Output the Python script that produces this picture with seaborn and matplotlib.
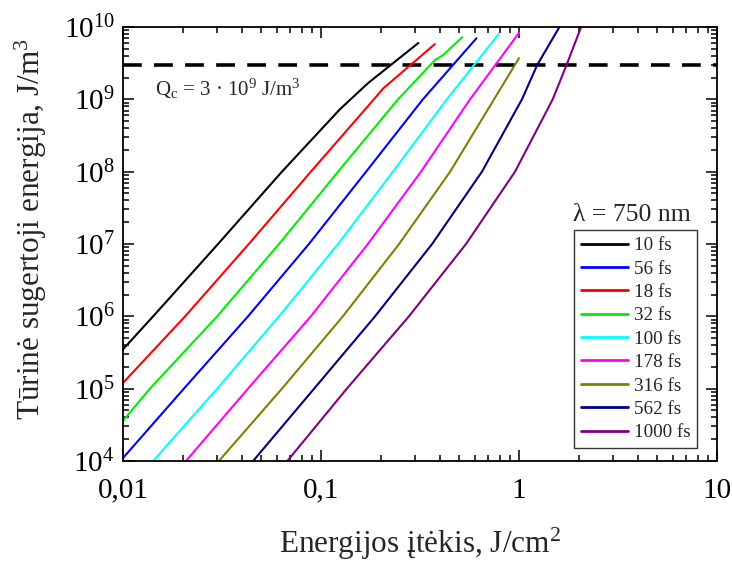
import numpy as np
import pandas as pd
import matplotlib
matplotlib.use("Agg")
import matplotlib.pyplot as plt
import seaborn as sns
from matplotlib.ticker import FixedLocator, LogLocator, NullFormatter, FixedFormatter

# ---- data ----
pulses = ["10 fs", "18 fs", "32 fs", "56 fs", "100 fs", "178 fs", "316 fs", "562 fs", "1000 fs"]
legend_order = ["10 fs", "56 fs", "18 fs", "32 fs", "100 fs", "178 fs", "316 fs", "562 fs", "1000 fs"]

F_10 = [0.01, 0.0142, 0.0302, 0.0635, 0.1247, 0.1726, 0.31]
Q_10 = [3.5e5, 1e6, 1e7, 1e8, 7.3e8, 1.67e9, 6e9]
F_18 = [0.01, 0.0206, 0.0432, 0.0889, 0.185, 0.2065, 0.376]
Q_18 = [1.2e5, 1e6, 1e7, 1e8, 1e9, 1.42e9, 5.8e9]
F_32 = [0.01, 0.01368, 0.0299, 0.0614, 0.122, 0.245, 0.377, 0.414, 0.516]
Q_32 = [3.6e4, 1e5, 1e6, 1e7, 1e8, 1e9, 3.5e9, 4.1e9, 7.2e9]
F_56 = [0.01, 0.0203, 0.0428, 0.0869, 0.169, 0.327, 0.61]
Q_56 = [1.1e4, 1e5, 1e6, 1e7, 1e8, 1e9, 7e9]
F_100 = [0.0142, 0.0299, 0.0614, 0.122, 0.231, 0.432, 0.79]
Q_100 = [1e4, 1e5, 1e6, 1e7, 1e8, 1e9, 8e9]
F_178 = [0.0208, 0.0428, 0.0889, 0.1725, 0.32, 0.566, 1.0]
Q_178 = [1e4, 1e5, 1e6, 1e7, 1e8, 1e9, 8.3e9]
F_316 = [0.0305, 0.0635, 0.129, 0.248, 0.449, 0.748, 1.0]
Q_316 = [1e4, 1e5, 1e6, 1e7, 1e8, 1e9, 3.7e9]
F_562 = [0.0454, 0.0923, 0.1875, 0.364, 0.65, 1.035, 1.237, 1.6]
Q_562 = [1e4, 1e5, 1e6, 1e7, 1e8, 1e9, 3e9, 1e10]
F_1000 = [0.0676, 0.135, 0.278, 0.54, 0.955, 1.48, 1.74, 2.06]
Q_1000 = [1e4, 1e5, 1e6, 1e7, 1e8, 1e9, 3e9, 1e10]

Q_crit = 3e9
x_ticks = [0.01, 0.1, 1, 10]
x_tick_labels = ["0,01", "0,1", "1", "10"]

colors = {"10 fs": "#000000", "18 fs": "#ff0000", "32 fs": "#00ee00", "56 fs": "#0000ff",
          "100 fs": "#00ffff", "178 fs": "#ff00ff", "316 fs": "#808000", "562 fs": "#000080",
          "1000 fs": "#800080"}

series = {"10 fs": (F_10, Q_10), "18 fs": (F_18, Q_18), "32 fs": (F_32, Q_32),
          "56 fs": (F_56, Q_56), "100 fs": (F_100, Q_100), "178 fs": (F_178, Q_178),
          "316 fs": (F_316, Q_316), "562 fs": (F_562, Q_562), "1000 fs": (F_1000, Q_1000)}

rows = []
for name in pulses:
    F, Q = series[name]
    for f, q in zip(F, Q):
        rows.append({"pulse": name, "F": f, "Q": q})
df = pd.DataFrame(rows)

# ---- style ----
sns.set_style("ticks")
plt.rcParams["font.family"] = ["Liberation Serif", "DejaVu Serif"]
plt.rcParams["mathtext.fontset"] = "custom"
plt.rcParams["mathtext.rm"] = "Liberation Serif"
plt.rcParams["mathtext.it"] = "Liberation Serif:italic"
plt.rcParams["mathtext.default"] = "regular"

fig = plt.figure(figsize=(7.32, 5.61), dpi=100)
ax = fig.add_axes([123/732, 1-461/561, (717-123)/732, (461-27)/561])

sns.lineplot(data=df, x="F", y="Q", hue="pulse", hue_order=legend_order, palette=colors,
             estimator=None, sort=False, units="pulse", linewidth=1.5, ax=ax, legend=True)

ax.set_xscale("log")
ax.set_yscale("log")
ax.set_xlim(0.01, 10)
ax.set_ylim(1e4, 1e10)

ax.axhline(Q_crit, color="black", lw=2.6, dashes=(5.2, 3.4), zorder=1)

ax.xaxis.set_major_locator(FixedLocator(x_ticks))
ax.xaxis.set_major_formatter(FixedFormatter(x_tick_labels))
ax.xaxis.set_minor_locator(LogLocator(base=10, subs=np.arange(2, 10)))
ax.xaxis.set_minor_formatter(NullFormatter())
ax.yaxis.set_major_locator(LogLocator(base=10, numticks=20))
ax.yaxis.set_minor_locator(LogLocator(base=10, subs=np.arange(2, 10), numticks=20))
ax.yaxis.set_minor_formatter(NullFormatter())

ax.tick_params(which="both", direction="in", top=True, right=True, width=1.1, colors="black")
ax.tick_params(which="major", length=8, labelsize=21, pad=6)
ax.tick_params(axis="x", which="major", pad=12)
ax.tick_params(which="minor", length=4.5)
for s in ax.spines.values():
    s.set_linewidth(1.3)
    s.set_color("black")

ax.set_xlabel("Energijos įtėkis, J/cm$^2$", fontsize=22.5, labelpad=16)
ax.set_ylabel("Tūrinė sugertoji energija, J/m$^3$", fontsize=22.5)
ax.yaxis.set_label_coords(-0.125, 0.535)

ax.text(0.054, 0.857, "Q$_c$ = 3 · 10$^9$ J/m$^3$", transform=ax.transAxes, fontsize=15,
        ha="left", va="center")

handles, labels = ax.get_legend_handles_labels()
leg = ax.legend(handles, labels, loc="lower right", bbox_to_anchor=(0.9663, 0.03),
                fontsize=13.8, frameon=True, fancybox=False, edgecolor="black",
                handlelength=2.45, handletextpad=0.3, labelspacing=0.31, borderpad=0.35,
                borderaxespad=0)
leg.get_frame().set_linewidth(1.0)
for lh in leg.get_lines():
    lh.set_linewidth(2.0)
ax.text(0.857, 0.567, "λ = 750 nm", transform=ax.transAxes, fontsize=18.5,
        ha="center", va="center")

fig.savefig("out.png", dpi=100)
